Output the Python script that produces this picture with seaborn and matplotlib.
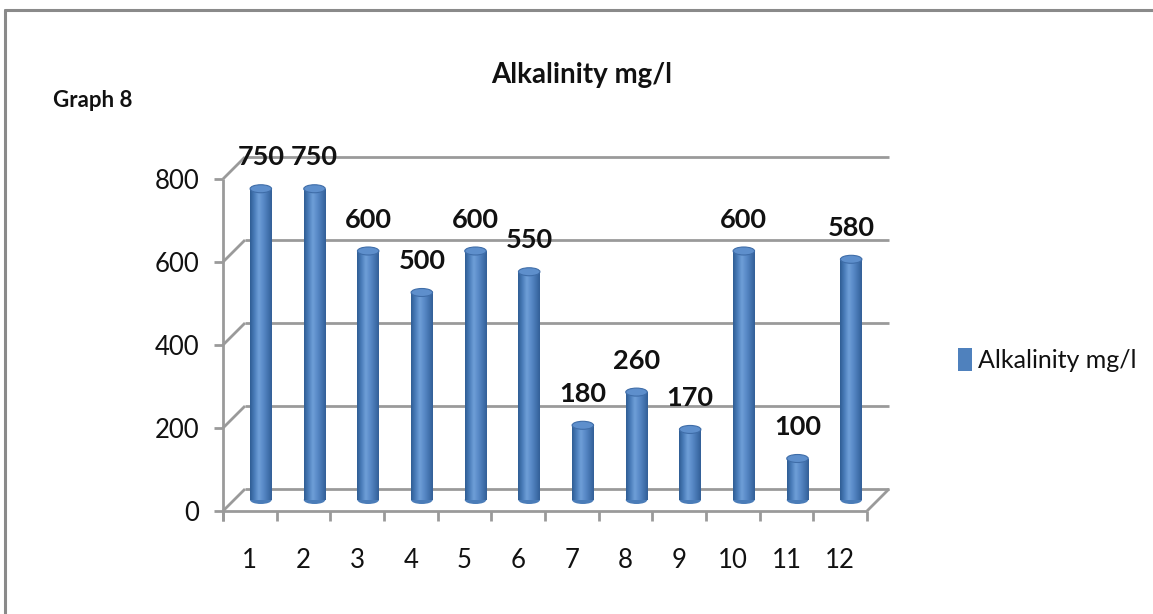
import numpy as np
import matplotlib
matplotlib.use("Agg")
import matplotlib.pyplot as plt
import matplotlib.transforms as mtransforms
from matplotlib.patches import Ellipse
from matplotlib.lines import Line2D
from matplotlib.colors import LinearSegmentedColormap
import pandas as pd
import seaborn as sns

# ---- data -------------------------------------------------------------
samples = ["1", "2", "3", "4", "5", "6", "7", "8", "9", "10", "11", "12"]
alkalinity = [750, 750, 600, 500, 600, 550, 180, 260, 170, 600, 100, 580]
y_ticks = [0, 200, 400, 600, 800]
series_name = "Alkalinity mg/l"
chart_title = "Alkalinity mg/l"
caption = "Graph 8"

# ---- style ------------------------------------------------------------
sns.set_theme(style="white")
plt.rcParams["font.family"] = ["Lato", "DejaVu Sans"]

BAR_BLUE = "#4F81BD"
GRID = "#9a9a9a"
TEXT = "#111111"
DEPTH = 11  # pixel offset between the front, bar and back planes

fig = plt.figure(figsize=(11.53, 6.14), dpi=100)
W, H = 1153, 614
ax = fig.add_axes([234 / W, (H - 500) / H, 644 / W, 332 / H])

df = pd.DataFrame({"sample": samples, "value": alkalinity})
sns.barplot(data=df, x="sample", y="value", order=samples, color=BAR_BLUE,
            saturation=1, width=0.4, label=series_name, ax=ax, zorder=3,
            linewidth=0)

x0, x1 = -0.5, len(samples) - 0.5
ax.set_xlim(x0, x1)
ax.set_ylim(0, 800)
for s in ax.spines.values():
    s.set_visible(False)
ax.set_xlabel("")
ax.set_ylabel("")
ax.grid(False)
ax.patch.set_alpha(0)

# pixel -> data scale of the bar plane
px_x = 644 / len(samples)
px_y = 332 / 800
dx = DEPTH / px_x
dy = DEPTH / px_y

offset_front = mtransforms.ScaledTranslation(-DEPTH / 100, -DEPTH / 100, fig.dpi_scale_trans)
offset_back = mtransforms.ScaledTranslation(DEPTH / 100, DEPTH / 100, fig.dpi_scale_trans)
front = ax.transData + offset_front
back = ax.transData + offset_back

lw = 2.0


def wall_line(xs, ys, transform):
    ax.add_line(Line2D(xs, ys, transform=transform, color=GRID, lw=lw,
                       zorder=1, clip_on=False, solid_capstyle="butt"))


# back wall gridlines and side-wall diagonals
for v in y_ticks:
    wall_line([x0, x1], [v, v], back)
    wall_line([x0 - dx, x0 + dx], [v - dy, v + dy], ax.transData)
    wall_line([x0 - 9 / px_x, x0], [v, v], front)  # tick on the value axis
# front value axis
wall_line([x0, x0], [-10 / px_y, 800], front)
# floor: front edge and right diagonal
wall_line([x0, x1], [0, 0], front)
wall_line([x1 - dx, x1 + dx], [-dy, dy], ax.transData)
# category tick marks
for b in np.arange(x0, x1 + 0.01, 1.0):
    wall_line([b, b], [0, -10 / px_y], front)

# cylinder shading on each bar
shade = LinearSegmentedColormap.from_list(
    "cyl", ["#2f5d94", "#4a7dba", "#6f9fd8", "#5a8bc8", "#4676b2", "#325f97"])
grad = np.linspace(0, 1, 64).reshape(1, -1)
cap_h = 8 / px_y
bars = ax.containers[0]
for p, v in zip(bars.patches, alkalinity):
    bx, bw = p.get_x(), p.get_width()
    im = ax.imshow(grad, cmap=shade, extent=[bx, bx + bw, 0, v], aspect="auto",
                   zorder=3.1, interpolation="bicubic")
    im.set_clip_path(p)
    ax.add_patch(Ellipse((bx + bw / 2, 0), bw, cap_h, facecolor="#4a7cb8",
                         edgecolor="none", zorder=2.9, clip_on=False))
    ax.add_patch(Ellipse((bx + bw / 2, v), bw, cap_h, facecolor="#5e8fcc",
                         edgecolor="#3f6da8", lw=0.8, zorder=3.5, clip_on=False))

ax.set_xlim(x0, x1)
ax.set_ylim(0, 800)

# value labels
ax.bar_label(bars, labels=[f"{v}" for v in alkalinity], padding=14,
             fontsize=19.5, fontweight="bold", color=TEXT, zorder=5)

# tick labels, drawn in the front plane
ax.set_yticks(y_ticks)
ax.set_yticklabels([str(t) for t in y_ticks])
ax.tick_params(axis="y", length=0, pad=17, labelsize=18.5, labelcolor=TEXT)
ax.tick_params(axis="x", length=0, pad=27, labelsize=18.5, labelcolor=TEXT)
for lab in ax.get_yticklabels() + ax.get_xticklabels():
    lab.set_transform(lab.get_transform() + offset_front)

# legend
leg = ax.legend(loc="center left", bbox_to_anchor=(958 / W, 1 - 360 / H),
                bbox_transform=fig.transFigure, frameon=False, fontsize=18,
                handlelength=0.56, handleheight=1.0, handletextpad=0.25,
                borderpad=0, borderaxespad=0)
for t in leg.get_texts():
    t.set_color(TEXT)

# titles
fig.text(582 / W, 1 - 83 / H, chart_title, ha="center", va="baseline",
         fontsize=20, fontweight="bold", color=TEXT)
fig.text(53 / W, 1 - 107 / H, caption, ha="left", va="baseline",
         fontsize=16, fontweight="bold", color=TEXT)

# outer frame
fig.add_artist(Line2D([5 / W, 1], [1 - 9.5 / H, 1 - 9.5 / H], transform=fig.transFigure,
                      color="#8a8a8a", lw=2.2))
fig.add_artist(Line2D([5 / W, 5 / W], [0, 1 - 9.5 / H], transform=fig.transFigure,
                      color="#8a8a8a", lw=2.2))

fig.savefig("out.png", dpi=100)
